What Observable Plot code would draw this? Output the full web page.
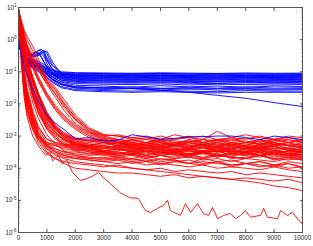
<!DOCTYPE html>
<html>
<head>
<meta charset="utf-8">
<script src="https://cdn.jsdelivr.net/npm/d3@7"></script>
<script src="https://cdn.jsdelivr.net/npm/@observablehq/plot@0.6"></script>
<style>
  html, body { margin: 0; padding: 0; background: #fff; }
</style>
</head>
<body>
<script>
// ---- tick labels ----
const xTicks = [0, 1000, 2000, 3000, 4000, 5000, 6000, 7000, 8000, 9000, 10000];
const yTicks = [1e-6, 1e-5, 1e-4, 1e-3, 1e-2, 1e-1, 1e0, 1e1];
const yExponents = ["-6", "-5", "-4", "-3", "-2", "-1", "0", "1"];
const yMinor = [2e-6,3e-6,4e-6,5e-6,6e-6,7e-6,8e-6,9e-6,2e-5,3e-5,4e-5,5e-5,6e-5,7e-5,8e-5,9e-5,2e-4,3e-4,4e-4,5e-4,6e-4,7e-4,8e-4,9e-4,2e-3,3e-3,4e-3,5e-3,6e-3,7e-3,8e-3,9e-3,2e-2,3e-2,4e-2,5e-2,6e-2,7e-2,8e-2,9e-2,0.2,0.3,0.4,0.5,0.6,0.7,0.8,0.9,2,3,4,5,6,7,8,9];

// ---- blue series (iterations, error) ----
const blueX = [0,100,200,300,400,500,600,700,800,900,1000,1200,1500,2000,3000,4000,5000,6000,7000,8000,9000,10000];
const blueY = [
  [1.0,0.5,0.42,0.38,0.35,0.34,0.38,0.46,0.5,0.42,0.27,0.15,0.1,0.094,0.092,0.09,0.093,0.091,0.089,0.092,0.09,0.091],
  [1.0,0.45,0.33,0.29,0.26,0.25,0.23,0.21,0.19,0.17,0.15,0.12,0.095,0.09,0.088,0.087,0.089,0.086,0.088,0.087,0.086,0.087],
  [0.95,0.48,0.4,0.36,0.33,0.33,0.34,0.37,0.42,0.47,0.36,0.16,0.092,0.086,0.084,0.082,0.085,0.083,0.081,0.084,0.083,0.082],
  [1.0,0.42,0.32,0.28,0.25,0.23,0.21,0.19,0.17,0.15,0.13,0.11,0.088,0.082,0.08,0.079,0.081,0.078,0.08,0.079,0.078,0.079],
  [0.98,0.52,0.43,0.39,0.36,0.35,0.4,0.47,0.44,0.34,0.22,0.12,0.085,0.079,0.077,0.075,0.077,0.076,0.074,0.077,0.076,0.075],
  [1.0,0.4,0.3,0.26,0.24,0.22,0.2,0.18,0.16,0.14,0.125,0.1,0.083,0.077,0.075,0.074,0.076,0.073,0.075,0.074,0.073,0.074],
  [0.95,0.46,0.38,0.34,0.32,0.31,0.31,0.33,0.37,0.42,0.44,0.2,0.085,0.074,0.072,0.07,0.073,0.071,0.069,0.072,0.071,0.07],
  [1.0,0.38,0.29,0.25,0.23,0.21,0.19,0.17,0.15,0.135,0.12,0.095,0.078,0.071,0.069,0.068,0.07,0.067,0.069,0.068,0.067,0.068],
  [0.97,0.5,0.41,0.37,0.34,0.32,0.33,0.36,0.41,0.38,0.25,0.11,0.077,0.069,0.067,0.065,0.068,0.066,0.064,0.067,0.066,0.065],
  [1.0,0.44,0.31,0.27,0.24,0.22,0.2,0.18,0.16,0.14,0.12,0.092,0.073,0.066,0.064,0.063,0.065,0.062,0.064,0.063,0.062,0.063],
  [1.0,0.4,0.28,0.24,0.22,0.2,0.18,0.16,0.14,0.125,0.11,0.085,0.07,0.063,0.061,0.06,0.062,0.059,0.061,0.06,0.059,0.06],
  [0.96,0.47,0.39,0.35,0.33,0.36,0.42,0.4,0.3,0.2,0.14,0.09,0.068,0.061,0.059,0.057,0.06,0.058,0.056,0.059,0.058,0.057],
  [1.0,0.36,0.27,0.23,0.21,0.19,0.17,0.15,0.135,0.12,0.105,0.082,0.065,0.058,0.056,0.055,0.057,0.054,0.056,0.055,0.054,0.055],
  [0.98,0.49,0.4,0.36,0.34,0.37,0.4,0.36,0.28,0.2,0.14,0.085,0.062,0.055,0.053,0.052,0.054,0.052,0.051,0.053,0.052,0.052],
  [1.0,0.38,0.27,0.23,0.2,0.18,0.165,0.15,0.13,0.115,0.1,0.078,0.06,0.053,0.051,0.05,0.052,0.049,0.051,0.05,0.049,0.05],
  [1.0,0.35,0.26,0.22,0.19,0.17,0.155,0.14,0.125,0.11,0.095,0.072,0.056,0.05,0.048,0.047,0.049,0.046,0.048,0.047,0.046,0.047],
  [0.95,0.45,0.37,0.33,0.3,0.29,0.3,0.33,0.36,0.3,0.18,0.085,0.055,0.047,0.045,0.044,0.046,0.044,0.043,0.045,0.044,0.044],
  [1.0,0.37,0.25,0.21,0.18,0.16,0.145,0.13,0.115,0.1,0.088,0.066,0.05,0.043,0.041,0.04,0.042,0.039,0.041,0.04,0.039,0.04],
  [1.0,0.4,0.28,0.24,0.21,0.19,0.17,0.15,0.13,0.11,0.095,0.068,0.048,0.038,0.036,0.033,0.037,0.034,0.036,0.033,0.036,0.035],
  [1.0,0.36,0.26,0.22,0.19,0.17,0.15,0.135,0.12,0.1,0.085,0.06,0.043,0.034,0.031,0.034,0.03,0.033,0.031,0.034,0.031,0.032],
  [0.98,0.34,0.24,0.2,0.17,0.15,0.135,0.12,0.105,0.09,0.078,0.055,0.04,0.032,0.031,0.03,0.031,0.029,0.03,0.03,0.029,0.03],
  [1.0,0.38,0.27,0.22,0.19,0.17,0.15,0.13,0.115,0.1,0.085,0.058,0.04,0.031,0.028,0.03,0.027,0.03,0.027,0.029,0.027,0.028],
  [1.0,0.33,0.23,0.19,0.16,0.14,0.125,0.11,0.095,0.082,0.07,0.05,0.035,0.028,0.026,0.025,0.026,0.025,0.024,0.026,0.025,0.025],
  [0.97,0.32,0.22,0.18,0.15,0.13,0.115,0.1,0.088,0.076,0.065,0.046,0.032,0.026,0.024,0.023,0.024,0.023,0.022,0.023,0.023,0.023],
  [1.0,0.36,0.25,0.21,0.18,0.16,0.14,0.125,0.11,0.095,0.082,0.058,0.042,0.034,0.032,0.03,0.027,0.023,0.0185,0.015,0.011,0.0083]
];

// ---- red series ----
const redX = [0,100,200,300,500,700,1000,1300,1600,2000,2500,3000,3500,4000,4500,5000,5500,6000,6500,7000,7500,8000,8500,9000,9500,10000];
const redY = [
  [8.9,4,2,1.26,0.63,0.25,0.063,0.032,0.014,4.5e-3,1.8e-3,1.1e-3,1e-3,7.9e-4,8.9e-4,7.1e-4,7.9e-4,1e-3,6.3e-4,7.9e-4,7.1e-4,8.9e-4,6.3e-4,7.9e-4,7.1e-4,6.3e-4],
  [8.9,3.2,1.26,0.63,0.25,0.13,0.05,0.025,0.01,4e-3,1.6e-3,1e-3,7.9e-4,6.3e-4,5.6e-4,7.1e-4,5e-4,6.3e-4,7.9e-4,5.6e-4,6.3e-4,5e-4,7.1e-4,5.6e-4,6.3e-4,4.5e-4],
  [7.9,2.5,1,0.5,0.16,0.063,0.02,7.9e-3,4e-3,2e-3,1.1e-3,7.9e-4,6.3e-4,5e-4,5.6e-4,4e-4,5e-4,4.5e-4,5.6e-4,4e-4,5e-4,3.5e-4,4.5e-4,5e-4,3.5e-4,4e-4],
  [8.9,3.2,1.4,0.71,0.32,0.14,0.056,0.028,0.011,3.5e-3,1.6e-3,1.1e-3,1e-3,8.9e-4,7.9e-4,1e-3,7.9e-4,8.9e-4,7.9e-4,1.4e-3,8.9e-4,7.9e-4,1e-3,7.9e-4,8.9e-4,7.1e-4],
  [7.9,2,0.63,0.25,0.063,0.02,5e-3,2e-3,1.26e-3,7.9e-4,7.9e-4,7.1e-4,6.3e-4,7.9e-4,6.3e-4,7.1e-4,5.6e-4,7.9e-4,6.3e-4,7.1e-4,5.6e-4,6.3e-4,7.9e-4,6.3e-4,5e-4,6.3e-4],
  [7.9,1.8,0.5,0.2,0.05,0.016,4e-3,1.6e-3,1e-3,6.3e-4,5e-4,4.5e-4,4e-4,3.5e-4,4.5e-4,3.2e-4,4e-4,3.5e-4,4.5e-4,3.2e-4,4e-4,2.8e-4,3.5e-4,4e-4,2.8e-4,3.2e-4],
  [7.9,1.6,0.4,0.13,0.025,7.9e-3,2.5e-3,1.26e-3,7.9e-4,6.3e-4,5.6e-4,5e-4,6.3e-4,4.5e-4,5e-4,4e-4,5.6e-4,4.5e-4,5e-4,6.3e-4,4.5e-4,5e-4,4e-4,5e-4,5.6e-4,4e-4],
  [7.9,1.4,0.32,0.1,0.02,6.3e-3,2e-3,1e-3,6.3e-4,4.5e-4,3.5e-4,3.2e-4,2.8e-4,3.5e-4,2.5e-4,3.2e-4,2.8e-4,2.5e-4,3.2e-4,3.5e-4,2.5e-4,2.8e-4,2.2e-4,3.2e-4,2.5e-4,2.8e-4],
  [7.9,0.63,0.1,0.025,5e-3,1.6e-3,6.3e-4,5e-4,4e-4,3.5e-4,4e-4,3.2e-4,3.5e-4,4e-4,3.2e-4,3.5e-4,2.8e-4,4e-4,3.2e-4,3.5e-4,3.2e-4,4e-4,2.8e-4,3.5e-4,3.2e-4,2.5e-4],
  [7.9,0.5,0.079,0.02,4e-3,1.26e-3,5.6e-4,4e-4,3.2e-4,2.8e-4,2.5e-4,2.8e-4,2.2e-4,2.5e-4,2e-4,2.5e-4,2.2e-4,2.8e-4,2e-4,2.5e-4,2.2e-4,2e-4,2.5e-4,1.8e-4,2.2e-4,2e-4],
  [7.9,0.32,0.032,0.01,2.5e-3,1e-3,5e-4,4e-4,3.2e-4,3.2e-4,2.8e-4,3.2e-4,2.5e-4,2.8e-4,3.2e-4,2.5e-4,2.8e-4,2.2e-4,3.2e-4,2.5e-4,2.8e-4,2.5e-4,3.2e-4,2.2e-4,2.8e-4,2.5e-4],
  [7.9,2,0.71,0.28,0.071,0.022,5.6e-3,2.2e-3,1.26e-3,8.9e-4,7.1e-4,6.3e-4,5.6e-4,6.3e-4,5e-4,5.6e-4,6.3e-4,5e-4,5.6e-4,4.5e-4,6.3e-4,5.6e-4,5e-4,6.3e-4,5e-4,4.5e-4],
  [7.9,1.6,0.35,0.11,0.022,7.1e-3,2.2e-3,1.1e-3,7.9e-4,5.6e-4,5e-4,4.5e-4,5e-4,4e-4,4.5e-4,5e-4,3.5e-4,4.5e-4,4e-4,5e-4,4e-4,4.5e-4,3.5e-4,4.5e-4,4e-4,3.5e-4],
  [7.9,2.5,0.89,0.45,0.14,0.056,0.018,7.1e-3,3.5e-3,1.8e-3,1e-3,7.1e-4,5.6e-4,5e-4,4e-4,4.5e-4,3.5e-4,4e-4,3.2e-4,4e-4,3.5e-4,3.2e-4,4e-4,2.8e-4,3.5e-4,3.2e-4],
  [7.9,1.8,0.56,0.22,0.056,0.018,4.5e-3,1.8e-3,1e-3,6.3e-4,4.5e-4,3.5e-4,3.2e-4,2.8e-4,3.5e-4,2.8e-4,3.2e-4,2.5e-4,3.2e-4,2.8e-4,2.2e-4,3.2e-4,2.5e-4,2.8e-4,2.5e-4,2.2e-4],
  [7.9,0.5,0.063,0.016,3.2e-3,1e-3,4.5e-4,3.2e-4,2.5e-4,2.2e-4,2e-4,2.2e-4,1.8e-4,2e-4,1.6e-4,2e-4,1.8e-4,1.4e-4,2e-4,1.6e-4,1.8e-4,1.4e-4,1.6e-4,1.26e-4,1.6e-4,1.4e-4],
  [7.9,1.4,0.32,0.1,0.018,5.6e-3,1.8e-3,8.9e-4,5.6e-4,4e-4,3.2e-4,2.8e-4,2.5e-4,2.8e-4,2.2e-4,2.5e-4,2e-4,2.5e-4,2.2e-4,2.8e-4,2e-4,2.2e-4,2.5e-4,2e-4,1.8e-4,2.2e-4],
  [8.9,2.8,1.26,0.56,0.22,0.11,0.045,0.02,8.9e-3,3.2e-3,1.4e-3,8.9e-4,7.1e-4,5.6e-4,5e-4,6.3e-4,4.5e-4,5e-4,5.6e-4,4.5e-4,4e-4,5e-4,4.5e-4,5.6e-4,4e-4,4.5e-4],
  [7.9,2,0.63,0.25,0.071,0.02,5e-3,2e-3,1.1e-3,7.9e-4,7.1e-4,6.3e-4,7.1e-4,5.6e-4,6.3e-4,7.9e-4,6.3e-4,7.1e-4,5.6e-4,6.3e-4,7.9e-4,6.3e-4,5.6e-4,7.1e-4,6.3e-4,7.9e-4],
  [7.9,0.25,0.025,7.9e-3,2e-3,7.9e-4,4e-4,2.8e-4,2.2e-4,2e-4,1.8e-4,1.6e-4,1.8e-4,1.4e-4,1.6e-4,1.26e-4,1.6e-4,1.4e-4,1.26e-4,1.6e-4,1.1e-4,1.4e-4,1.26e-4,1.1e-4,1.4e-4,1e-4],
  [7.9,1.6,0.4,0.13,0.025,7.9e-3,2.5e-3,1.26e-3,7.1e-4,5e-4,4e-4,3.5e-4,4e-4,3.2e-4,3.5e-4,4e-4,3.2e-4,3.5e-4,2.8e-4,3.5e-4,3.2e-4,4e-4,3.2e-4,3.5e-4,2.8e-4,3.2e-4],
  [7.9,0.63,0.13,0.032,6.3e-3,2e-3,7.9e-4,6.3e-4,5.6e-4,5e-4,5e-4,4.5e-4,5e-4,4e-4,4.5e-4,3.5e-4,4e-4,3.2e-4,3.5e-4,3.2e-4,2.8e-4,3.2e-4,2.5e-4,2.8e-4,2.5e-4,2.2e-4],
  [7.9,2,0.56,0.2,0.05,0.016,4e-3,1.6e-3,8.9e-4,5.6e-4,4e-4,3.2e-4,2.8e-4,3.2e-4,2.5e-4,2.8e-4,3.2e-4,2.5e-4,2.8e-4,2.2e-4,2.8e-4,2.5e-4,3.2e-4,2.5e-4,2.2e-4,2.8e-4],
  [7.9,2.8,1.1,0.56,0.18,0.071,0.022,8.9e-3,4.5e-3,2.2e-3,1.26e-3,8.9e-4,7.9e-4,7.1e-4,6.3e-4,7.9e-4,7.1e-4,6.3e-4,7.9e-4,7.1e-4,8.9e-4,6.3e-4,7.1e-4,7.9e-4,6.3e-4,7.1e-4],
  [7.9,1.26,0.28,0.089,0.016,5e-3,1.6e-3,7.9e-4,5e-4,3.5e-4,2.8e-4,2.5e-4,2.2e-4,2e-4,2.5e-4,1.8e-4,2e-4,2.2e-4,1.8e-4,2e-4,1.6e-4,2e-4,1.8e-4,1.6e-4,2e-4,1.8e-4],
  [7.9,0.5,0.079,0.02,4e-3,1.26e-3,5e-4,3.2e-4,2.5e-4,2e-4,1.8e-4,1.6e-4,1.4e-4,1.6e-4,1.26e-4,1.4e-4,1.26e-4,1.1e-4,1.26e-4,1e-4,1.1e-4,1e-4,8.9e-5,1.1e-4,8.9e-5,7.9e-5],
  [7.9,0.32,0.032,7.9e-3,1.6e-3,6.3e-4,2.8e-4,2e-4,1.6e-4,1.4e-4,1.26e-4,1.1e-4,1.26e-4,1e-4,8.9e-5,1e-4,7.9e-5,8.9e-5,7.9e-5,7.1e-5,7.9e-5,6.3e-5,7.1e-5,6.3e-5,5.6e-5,5e-5],
  [7.9,0.4,0.05,0.013,2.5e-3,7.9e-4,3.2e-4,2e-4,1.4e-4,1e-4,8.9e-5,7.9e-5,7.1e-5,7.1e-5,6.3e-5,5.6e-5,6.3e-5,5e-5,5.6e-5,5e-5,4.5e-5,5e-5,4.5e-5,4e-5,4.5e-5,3.5e-5],
  [7.9,1.6,0.4,0.14,0.028,8.9e-3,2.8e-3,1.26e-3,7.9e-4,5.6e-4,4.5e-4,4e-4,4.5e-4,3.5e-4,4e-4,5e-4,4e-4,3.5e-4,4.5e-4,4e-4,3.2e-4,4e-4,4.5e-4,3.5e-4,4e-4,3.2e-4],
  [7.9,2,0.63,0.22,0.056,0.018,4.5e-3,1.8e-3,1.1e-3,7.1e-4,5.6e-4,5e-4,4.5e-4,5e-4,4e-4,4.5e-4,5e-4,4e-4,4.5e-4,3.5e-4,5e-4,4.5e-4,4e-4,5e-4,3.5e-4,4e-4],
  [7.9,2.2,0.89,0.4,0.13,0.05,0.016,6.3e-3,3.2e-3,1.6e-3,8.9e-4,6.3e-4,5e-4,4e-4,3.5e-4,3.2e-4,3.5e-4,2.8e-4,3.2e-4,2.5e-4,3.2e-4,2.8e-4,2.5e-4,3.2e-4,2.8e-4,2.5e-4],
  [7.9,0.35,0.04,0.011,2.8e-3,1.1e-3,5e-4,3.5e-4,2.8e-4,2.5e-4,2.2e-4,2e-4,2.2e-4,1.8e-4,2e-4,1.6e-4,1.8e-4,1.4e-4,1.6e-4,1.4e-4,1.26e-4,1.4e-4,1.1e-4,1.26e-4,1e-4,1.1e-4],
  [7.9,1.8,0.45,0.14,0.032,0.01,3.2e-3,1.6e-3,1e-3,7.1e-4,6.3e-4,5.6e-4,6.3e-4,5e-4,5.6e-4,6.3e-4,5e-4,5.6e-4,6.3e-4,5e-4,5.6e-4,4.5e-4,5.6e-4,6.3e-4,5e-4,5.6e-4],
  [7.9,0.45,0.063,0.016,3.2e-3,1e-3,4e-4,2.5e-4,2e-4,1.6e-4,1.4e-4,1.26e-4,1.1e-4,1e-4,8.9e-5,7.9e-5,7.1e-5,6.3e-5,5.6e-5,5e-5,4.5e-5,4e-5,3.5e-5,2.8e-5,2.5e-5,2e-5],
  [7.9,1.8,0.5,0.18,0.045,0.014,3.5e-3,1.4e-3,7.9e-4,5e-4,3.5e-4,3.2e-4,2.5e-4,2.8e-4,2.2e-4,2.5e-4,2.8e-4,2.2e-4,2e-4,2.5e-4,2.2e-4,2e-4,2.5e-4,2e-4,2.2e-4,1.8e-4],
  [8.9,3.5,1.8,1,0.45,0.18,0.05,0.02,7.9e-3,3.2e-3,1.4e-3,1e-3,1.1e-3,8.9e-4,1e-3,7.9e-4,1.1e-3,8.9e-4,1e-3,7.9e-4,8.9e-4,1.1e-3,8.9e-4,7.9e-4,1e-3,8.9e-4],
  [7.9,0.25,0.02,5e-3,1.6e-3,7.9e-4,5.6e-4,5e-4,4.5e-4,4e-4,4.5e-4,3.5e-4,4e-4,4.5e-4,3.5e-4,4e-4,3.2e-4,4e-4,3.5e-4,4.5e-4,3.5e-4,3.2e-4,4e-4,3.5e-4,3.2e-4,3.5e-4],
  [7.9,1,0.2,0.063,0.011,3.5e-3,1.1e-3,5.6e-4,3.5e-4,2.5e-4,2e-4,1.8e-4,2e-4,1.6e-4,1.8e-4,1.4e-4,1.6e-4,1.8e-4,1.4e-4,1.6e-4,1.26e-4,1.4e-4,1.6e-4,1.26e-4,1.4e-4,1.1e-4],
  [7.9,1.8,0.45,0.16,0.035,0.011,3.5e-3,1.8e-3,1.1e-3,7.9e-4,7.1e-4,7.9e-4,6.3e-4,7.1e-4,7.9e-4,6.3e-4,5.6e-4,7.1e-4,6.3e-4,7.9e-4,6.3e-4,7.1e-4,5.6e-4,7.1e-4,7.9e-4,6.3e-4],
  [7.9,0.56,0.1,0.025,5e-3,1.8e-3,7.9e-4,6.3e-4,5e-4,4.5e-4,5e-4,4e-4,5e-4,4.5e-4,3.5e-4,5e-4,4e-4,4.5e-4,5e-4,3.5e-4,4.5e-4,4e-4,5e-4,4e-4,4.5e-4,3.5e-4],
  [7.9,2,0.63,0.25,0.063,0.018,4e-3,1.6e-3,8.9e-4,5.6e-4,4.5e-4,3.5e-4,4e-4,3.2e-4,3.5e-4,4e-4,3.2e-4,2.8e-4,3.5e-4,3.2e-4,4e-4,3.2e-4,3.5e-4,2.8e-4,3.5e-4,3.2e-4],
  [8.9,3.2,1.26,0.63,0.25,0.11,0.04,0.016,6.3e-3,2.5e-3,1.26e-3,7.9e-4,6.3e-4,5.6e-4,6.3e-4,5e-4,5.6e-4,6.3e-4,5e-4,5.6e-4,5e-4,6.3e-4,5.6e-4,5e-4,6.3e-4,5e-4],
  [7.9,1.26,0.28,0.089,0.018,5.6e-3,1.8e-3,8.9e-4,5.6e-4,4e-4,3.2e-4,2.8e-4,3.2e-4,2.5e-4,2.8e-4,3.2e-4,2.5e-4,2.8e-4,3.2e-4,2.2e-4,2.8e-4,3.2e-4,2.5e-4,2.8e-4,2.5e-4,3.2e-4],
  [7.9,0.28,0.025,6.3e-3,1.8e-3,8.9e-4,6.3e-4,5.6e-4,5e-4,5.6e-4,5e-4,6.3e-4,5e-4,5.6e-4,4.5e-4,5.6e-4,5e-4,6.3e-4,5e-4,4.5e-4,5.6e-4,5e-4,4.5e-4,5.6e-4,5e-4,4.5e-4]
];

// ---- lowest red series (finer sampling) ----
const redLowX = [0,100,200,300,500,700,950,1100,1200,1400,1550,1700,1900,2180,2430,2640,2820,3000,3240,3590,3940,4220,4470,4650,4890,5100,5250,5350,5700,5880,6060,6300,6510,6690,6830,7010,7220,7460,7640,7820,7990,8170,8520,8630,8770,9120,9230,9470,9650,9820,10000];
const redLowY = [7.9,0.16,0.016,4e-3,1e-3,5e-4,2.5e-4,3.2e-4,1.7e-4,2.5e-4,1.4e-4,1.8e-4,7.4e-5,4.2e-5,4.8e-5,5.9e-5,7.4e-5,5e-5,3.3e-5,1.7e-5,1.2e-5,1.15e-5,4.8e-6,4.2e-6,5.6e-6,6.9e-6,1e-5,4.8e-6,3.4e-6,7.9e-6,4.2e-6,7.9e-6,3.9e-6,3.4e-6,6e-6,2.7e-6,3.4e-6,3.9e-6,2.7e-6,3.4e-6,4.8e-6,3e-6,3.4e-6,5.6e-6,3e-6,2.7e-6,4.8e-6,3.4e-6,4.2e-6,2.7e-6,1.8e-6];

// ---- blue series that drops into the red band ----
const blueLowX = redX;
const blueLowY = [1.0,0.35,0.15,0.08,0.03,0.012,4.4e-3,2.5e-3,1.6e-3,8.3e-4,9e-4,7e-4,7.5e-4,1.1e-3,9.5e-4,8e-4,8.5e-4,9.5e-4,9.5e-4,1e-3,1e-3,9e-4,7.8e-4,1e-3,9e-4,7.8e-4];

function rows(xs, series, tag) {
  const out = [];
  series.forEach((ys, i) => ys.forEach((y, j) => out.push({x: xs[j], y, s: tag + i})));
  return out;
}
const blueRows = rows(blueX, blueY, "b");
const redRows = rows(redX, redY, "r").concat(rows(redLowX, [redLowY], "rl"));
const blueLowRows = rows(blueLowX, [blueLowY], "bl");

const RED = "#ff0000", BLUE = "#0000ff", AX = "#555";
const lineOpts = {x: "x", y: "y", z: "s", strokeWidth: 0.9, clip: true};

const chart = Plot.plot({
  width: 313,
  height: 246,
  marginLeft: 18,
  marginRight: 11,
  marginTop: 7,
  marginBottom: 14,
  style: {fontFamily: "'Liberation Sans', Arial, sans-serif", fontSize: "6.3px", background: "#fff", color: "#222"},
  x: {domain: [0, 10000]},
  y: {type: "log", domain: [1e-6, 10]},
  marks: [
    Plot.line(blueRows, {...lineOpts, stroke: BLUE}),
    Plot.line(redRows, {...lineOpts, stroke: RED}),
    Plot.line(blueLowRows, {...lineOpts, stroke: BLUE}),
    Plot.frame({stroke: AX}),
    Plot.axisX({anchor: "bottom", ticks: xTicks, tickSize: 0, tickPadding: 3, tickFormat: d => String(d), label: null}),
    Plot.axisX({anchor: "bottom", ticks: xTicks, tickSize: -3, text: null, label: null, stroke: AX}),
    Plot.axisX({anchor: "top", ticks: xTicks, tickSize: -3, text: null, label: null, stroke: AX}),
    Plot.axisY({anchor: "left", ticks: yTicks, tickSize: 0, tickPadding: 2, tickFormat: d => "10^" + yExponents[yTicks.indexOf(d)], label: null}),
    Plot.axisY({anchor: "left", ticks: yTicks, tickSize: -3, text: null, label: null, stroke: AX}),
    Plot.axisY({anchor: "right", ticks: yTicks, tickSize: -3, text: null, label: null, stroke: AX}),
    Plot.axisY({anchor: "left", ticks: yMinor, tickSize: -1.5, text: null, label: null, stroke: AX}),
    Plot.axisY({anchor: "right", ticks: yMinor, tickSize: -1.5, text: null, label: null, stroke: AX})
  ]
});

// render exponent as superscript
d3.select(chart).selectAll('[aria-label="y-axis tick label"] text').each(function() {
  const t = this.textContent;
  if (!t.includes("^")) return;
  const [base, exp] = t.split("^");
  this.textContent = base;
  d3.select(this).append("tspan").attr("dy", "-0.55em").attr("font-size", "4.5px").text(exp);
});

document.body.appendChild(chart);
</script>
</body>
</html>
